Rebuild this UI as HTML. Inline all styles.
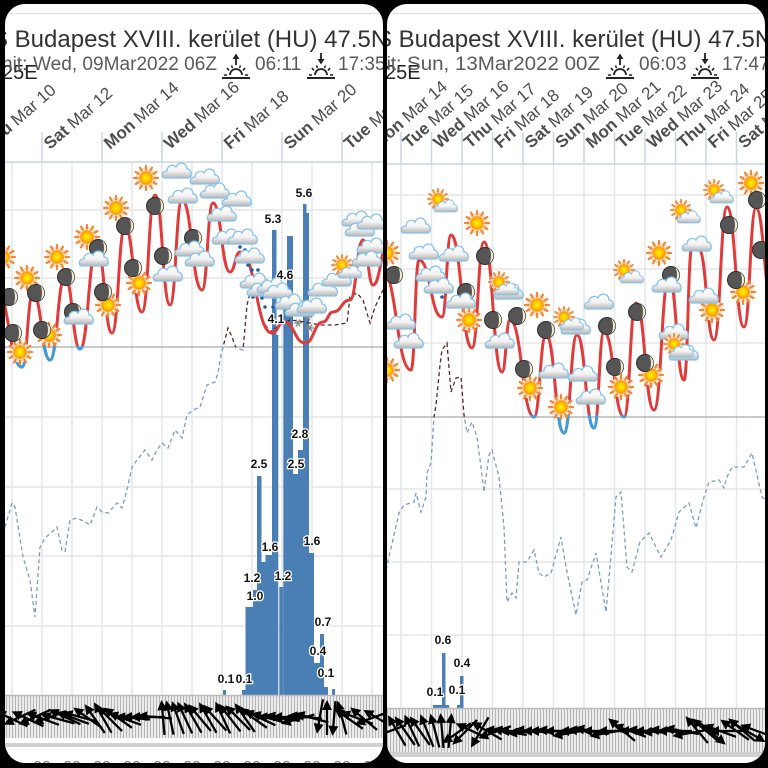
<!DOCTYPE html>
<html><head><meta charset="utf-8">
<style>
html,body{margin:0;padding:0;background:#000;width:768px;height:768px;overflow:hidden}
svg{display:block}
text{font-family:"Liberation Sans",Arial,sans-serif}
</style></head><body>
<svg width="768" height="768" viewBox="0 0 768 768" xmlns="http://www.w3.org/2000/svg" xmlns:xlink="http://www.w3.org/1999/xlink">
<defs>
 <clipPath id="cpL"><rect x="5" y="4" width="378" height="759" rx="20"/></clipPath>
 <clipPath id="cpR"><rect x="387" y="4" width="378" height="759" rx="20"/></clipPath>
 <clipPath id="cbL"><rect x="0" y="346" width="768" height="400"/></clipPath>
 <clipPath id="caL"><rect x="0" y="0" width="768" height="347"/></clipPath>
 <clipPath id="cbR"><rect x="0" y="415" width="768" height="400"/></clipPath>
 <clipPath id="caR"><rect x="0" y="0" width="768" height="417"/></clipPath>
 <radialGradient id="sg"><stop offset="0" stop-color="#fff200"/><stop offset="0.6" stop-color="#ffc400"/><stop offset="1" stop-color="#ff8c00"/></radialGradient>
 <linearGradient id="cg" x1="0" y1="0" x2="0" y2="1"><stop offset="0" stop-color="#ffffff"/><stop offset="0.55" stop-color="#f3f3f3"/><stop offset="1" stop-color="#b5b5b5"/></linearGradient>
 <pattern id="hatch" width="3" height="10" patternUnits="userSpaceOnUse"><rect width="3" height="10" fill="#ececec"/><rect x="0" width="1" height="10" fill="#b4b4b4"/></pattern>
 <g id="sun">
  <circle r="10.5" fill="#fde4c8"/>
  <path d="M8.5,0L12,0M7.36,4.25L10.39,6M4.25,7.36L6,10.39M0,8.5L0,12M-4.25,7.36L-6,10.39M-7.36,4.25L-10.39,6M-8.5,0L-12,0M-7.36,-4.25L-10.39,-6M-4.25,-7.36L-6,-10.39M0,-8.5L0,-12M4.25,-7.36L6,-10.39M7.36,-4.25L10.39,-6" stroke="#f0883a" stroke-width="2.2" stroke-linecap="round"/>
  <circle r="6.5" fill="url(#sg)" stroke="#f5a640" stroke-width="1"/>
 </g>
 <g id="moon">
  <circle r="8.5" fill="#555" stroke="#2e2e2e" stroke-width="1"/>
  <path d="M3,-7.9A8.5,8.5 0 0 1 3,7.9A3,7.9 0 0 0 3,-7.9Z" fill="#efe8c9"/>
 </g>
 <g id="cloud">
  <path d="M-12,6C-16,6 -16,-1 -10,-1C-10,-7 -3,-8 -1,-5C1,-11 10,-10 10,-3C15,-3 16,6 11,6Z" fill="url(#cg)" stroke="#86c3ea" stroke-width="1.3"/>
 </g>
 <g id="sc">
  <use xlink:href="#sun" href="#sun" transform="translate(-3,-3) scale(0.85)"/>
  <use xlink:href="#cloud" href="#cloud" transform="translate(5,5) scale(0.8)"/>
 </g>
 <g id="ar">
  <line x1="-17" y1="0" x2="10" y2="0" stroke="#000" stroke-width="2.3"/>
  <path d="M18,0L8,-5L8,5Z" fill="#000"/>
 </g>
 <g id="sn" stroke="#8a8a8a" stroke-width="1.3"><line x1="-4" y1="0" x2="4" y2="0"/><line x1="-2" y1="-3.5" x2="2" y2="3.5"/><line x1="2" y1="-3.5" x2="-2" y2="3.5"/></g>
 <g id="rise" stroke="#222" fill="none">
  <line x1="0" y1="65" x2="0" y2="58" stroke-width="1.8"/>
  <path d="M-3.5,59L0,53.5L3.5,59Z" fill="#222" stroke="none"/>
  <path d="M-6,75A6,6 0 0 1 6,75" stroke-width="1.8"/>
  <path d="M-12,75H-9M9,75H12M-9,68L-7,70.5M9,68L7,70.5M-4.5,65.5L-3.5,68M4.5,65.5L3.5,68" stroke-width="1.6"/>
  <line x1="-14" y1="78" x2="14" y2="78" stroke-width="2"/>
 </g>
 <g id="set" stroke="#222" fill="none">
  <line x1="0" y1="53" x2="0" y2="60" stroke-width="1.8"/>
  <path d="M-3.5,59L0,64.5L3.5,59Z" fill="#222" stroke="none"/>
  <path d="M-6,75A6,6 0 0 1 6,75" stroke-width="1.8"/>
  <path d="M-12,75H-9M9,75H12M-9,68L-7,70.5M9,68L7,70.5M-4.5,65.5L-3.5,68M4.5,65.5L3.5,68" stroke-width="1.6"/>
  <line x1="-14" y1="78" x2="14" y2="78" stroke-width="2"/>
 </g>
</defs>

<rect width="768" height="768" fill="#000"/>

<!-- ================= LEFT PANEL ================= -->
<g clip-path="url(#cpL)">
 <rect x="5" y="4" width="378" height="759" fill="#fff"/>
 <line x1="5" y1="13.5" x2="383" y2="13.5" stroke="#e2e2e2" stroke-width="1.2"/>
 <text x="-8" y="47" font-size="24" fill="#333">S Budapest XVIII. kerület (HU) 47.5N</text>
 <text x="2" y="79" font-size="20" fill="#222">25E</text>
 <text x="2" y="70" font-size="19" fill="#5a5a5a">nit:</text>
 <text x="33" y="70" font-size="19" fill="#5a5a5a" textLength="184" lengthAdjust="spacingAndGlyphs">Wed, 09Mar2022 06Z</text>
 <use xlink:href="#rise" href="#rise" transform="translate(236,0)"/>
 <text x="255" y="70" font-size="19" fill="#5a5a5a">06:11</text>
 <use xlink:href="#set" href="#set" transform="translate(321,0)"/>
 <text x="338" y="70" font-size="19" fill="#5a5a5a">17:35</text>

 <g stroke="#c9d4e3" stroke-width="1.5">
  <line x1="42" y1="132" x2="42" y2="162"/><line x1="102" y1="132" x2="102" y2="162"/><line x1="162" y1="132" x2="162" y2="162"/><line x1="222" y1="132" x2="222" y2="162"/><line x1="282" y1="132" x2="282" y2="162"/><line x1="342" y1="132" x2="342" y2="162"/>
 </g>
 <g font-size="17" fill="#4e4e4e">
  <text transform="translate(-10,150) rotate(-41)"><tspan font-weight="bold">Thu</tspan> Mar 10</text>
  <text transform="translate(50,150) rotate(-41)"><tspan font-weight="bold">Sat</tspan> Mar 12</text>
  <text transform="translate(110,150) rotate(-41)"><tspan font-weight="bold">Mon</tspan> Mar 14</text>
  <text transform="translate(170,150) rotate(-41)"><tspan font-weight="bold">Wed</tspan> Mar 16</text>
  <text transform="translate(230,150) rotate(-41)"><tspan font-weight="bold">Fri</tspan> Mar 18</text>
  <text transform="translate(290,150) rotate(-41)"><tspan font-weight="bold">Sun</tspan> Mar 20</text>
  <text transform="translate(350,150) rotate(-41)"><tspan font-weight="bold">Tue</tspan> Mar 22</text>
 </g>

 <g stroke="#e6e6e6" stroke-width="1.5">
  <line x1="5" y1="210" x2="383" y2="210"/><line x1="5" y1="278" x2="383" y2="278"/><line x1="5" y1="417" x2="383" y2="417"/><line x1="5" y1="487" x2="383" y2="487"/><line x1="5" y1="556" x2="383" y2="556"/><line x1="5" y1="626" x2="383" y2="626"/>
 </g>
 <g stroke="#e3e7eb" stroke-width="1.5">
  <line x1="12" y1="162" x2="12" y2="695"/><line x1="42" y1="162" x2="42" y2="695"/><line x1="72" y1="162" x2="72" y2="695"/><line x1="102" y1="162" x2="102" y2="695"/><line x1="132" y1="162" x2="132" y2="695"/><line x1="162" y1="162" x2="162" y2="695"/><line x1="192" y1="162" x2="192" y2="695"/><line x1="222" y1="162" x2="222" y2="695"/><line x1="252" y1="162" x2="252" y2="695"/><line x1="282" y1="162" x2="282" y2="695"/><line x1="312" y1="162" x2="312" y2="695"/><line x1="342" y1="162" x2="342" y2="695"/><line x1="372" y1="162" x2="372" y2="695"/>
 </g>
 <line x1="5" y1="347" x2="383" y2="347" stroke="#a9a9a9" stroke-width="1.3"/>
 <line x1="5" y1="162" x2="383" y2="162" stroke="#c9d4e3" stroke-width="1.5"/>

 <g fill="#4a7fb5">
  <rect x="223" y="690" width="3" height="5"/>
  <rect x="242" y="690" width="3.5" height="5"/>
  <rect x="245.5" y="607" width="4" height="88"/>
  <rect x="249.5" y="607" width="3.5" height="88"/>
  <rect x="253" y="590" width="4" height="105"/>
  <rect x="257" y="476" width="4.5" height="219"/>
  <rect x="261.5" y="562" width="4" height="133"/>
  <rect x="265.5" y="555" width="6.5" height="140"/>
  <rect x="272" y="230" width="4.5" height="465"/>
  <rect x="276.5" y="335" width="1.8" height="360"/>
  <rect x="279.3" y="587" width="4" height="108"/>
  <rect x="283.3" y="292" width="3.7" height="403"/>
  <rect x="287" y="236" width="6" height="459"/>
  <rect x="293" y="474" width="5" height="221"/>
  <rect x="298" y="450" width="5" height="245"/>
  <rect x="303" y="204" width="3.5" height="491"/>
  <rect x="306.5" y="213" width="2.5" height="482"/>
  <rect x="309" y="553" width="5" height="142"/>
  <rect x="314" y="663" width="6" height="32"/>
  <rect x="320" y="634" width="4" height="61"/>
  <rect x="324" y="687" width="4" height="8"/>
  <rect x="332" y="689" width="3" height="6"/>
 </g>

 <g fill="none" stroke-width="1.3" stroke-dasharray="4 3">
  <g clip-path="url(#cbL)"><polyline stroke="#7d9cc4" points="5,527 12,503 15,507 23,557 30,580 35,617 40,547 45,538 52,532 57,527 62,550 65,552 70,520 77,518 85,522 90,525 97,507 102,512 108,513 117,503 122,508 127,490 132,467 137,460 145,450 152,460 157,450 162,443 168,448 175,430 182,438 187,415 193,410 200,407 207,385 215,382 218,373 220,360 223,347 228,328 232,337 236,348 243,350 247,305 252,285 258,300 262,320 270,332 280,325 290,320 305,322 320,325 335,325 347,323 350,297 357,293 363,300 370,323 375,307 383,290"/></g>
  <g clip-path="url(#caL)"><polyline stroke="#5c2323" points="5,527 12,503 15,507 23,557 30,580 35,617 40,547 45,538 52,532 57,527 62,550 65,552 70,520 77,518 85,522 90,525 97,507 102,512 108,513 117,503 122,508 127,490 132,467 137,460 145,450 152,460 157,450 162,443 168,448 175,430 182,438 187,415 193,410 200,407 207,385 215,382 218,373 220,360 223,347 228,328 232,337 236,348 243,350 247,305 252,285 258,300 262,320 270,332 280,325 290,320 305,322 320,325 335,325 347,323 350,297 357,293 363,300 370,323 375,307 383,290"/></g>
 </g>

 <path fill="none" stroke="#e03b3b" stroke-width="3" d="M-5,285C8.5,285 8.5,367 22,367C27.5,367 27.5,293 33,293C41.5,293 41.5,360 50,360C57.5,360 57.5,277 65,277C72.5,277 72.5,349 80,349C88.5,349 88.5,247 97,247C104.5,247 104.5,333 112,333C118.5,333 118.5,227 125,227C133.5,227 133.5,312 142,312C148.5,312 148.5,195 155,195C162.5,195 162.5,305 170,305C176,305 176,200 182,200C192,200 192,290 202,290C207.5,290 207.5,203 213,203C221.5,203 221.5,272 230,272C235,272 235,252 240,252C256,252 256,333 272,333C278,333 278,322 284,322C294.5,322 294.5,343 305,343C314,343 314,322 323,322C328,322 328,312 333,312C341.5,312 341.5,300 350,300C356.5,300 356.5,240 363,240C368,240 368,285 373,285C380.5,285 380.5,245 388,245"/>
 <path fill="none" stroke="#3b9ddb" stroke-width="3" clip-path="url(#cbL)" d="M-5,285C8.5,285 8.5,367 22,367C27.5,367 27.5,293 33,293C41.5,293 41.5,360 50,360C57.5,360 57.5,277 65,277C72.5,277 72.5,349 80,349C88.5,349 88.5,247 97,247"/>

 <g fill="#1f5fa8">
  <circle cx="240" cy="247" r="1.8"/><circle cx="245" cy="250" r="1.8"/><circle cx="248" cy="265" r="1.8"/><circle cx="252" cy="270" r="1.8"/><circle cx="258" cy="270" r="1.8"/><circle cx="260" cy="278" r="1.8"/><circle cx="253" cy="297" r="1.8"/><circle cx="262" cy="298" r="1.8"/><circle cx="265" cy="307" r="1.8"/><circle cx="273" cy="307" r="1.8"/><circle cx="277" cy="293" r="1.8"/><circle cx="282" cy="305" r="1.8"/>
 </g>
 <use xlink:href="#sn" href="#sn" x="298" y="323"/><use xlink:href="#sn" href="#sn" x="308" y="317"/><use xlink:href="#sn" href="#sn" x="323" y="310"/><use xlink:href="#sn" href="#sn" x="310" y="328"/>

 <use href="#sun" xlink:href="#sun" x="3" y="257"/><use href="#sun" xlink:href="#sun" x="20" y="352"/><use href="#sun" xlink:href="#sun" x="27" y="278"/><use href="#sun" xlink:href="#sun" x="49" y="335"/><use href="#sun" xlink:href="#sun" x="57" y="257"/><use href="#sun" xlink:href="#sun" x="87" y="237"/><use href="#sun" xlink:href="#sun" x="108" y="305"/><use href="#sun" xlink:href="#sun" x="116" y="208"/><use href="#sun" xlink:href="#sun" x="139" y="283"/><use href="#sun" xlink:href="#sun" x="146" y="178"/>
 <use href="#moon" xlink:href="#moon" x="9" y="297"/><use href="#moon" xlink:href="#moon" x="13" y="333"/><use href="#moon" xlink:href="#moon" x="36" y="293"/><use href="#moon" xlink:href="#moon" x="42" y="330"/><use href="#moon" xlink:href="#moon" x="66" y="277"/><use href="#moon" xlink:href="#moon" x="73" y="312"/><use href="#moon" xlink:href="#moon" x="98" y="248"/><use href="#moon" xlink:href="#moon" x="103" y="292"/><use href="#moon" xlink:href="#moon" x="125" y="226"/><use href="#moon" xlink:href="#moon" x="133" y="268"/><use href="#moon" xlink:href="#moon" x="155" y="206"/><use href="#moon" xlink:href="#moon" x="163" y="256"/><use href="#moon" xlink:href="#moon" x="193" y="238"/>
 <use href="#cloud" xlink:href="#cloud" x="79" y="318"/><use href="#cloud" xlink:href="#cloud" x="94" y="260"/><use href="#cloud" xlink:href="#cloud" x="168" y="275"/><use href="#cloud" xlink:href="#cloud" x="177" y="172"/><use href="#cloud" xlink:href="#cloud" x="183" y="197"/><use href="#cloud" xlink:href="#cloud" x="190" y="250"/><use href="#cloud" xlink:href="#cloud" x="205" y="178"/><use href="#cloud" xlink:href="#cloud" x="215" y="192"/><use href="#cloud" xlink:href="#cloud" x="237" y="200"/><use href="#cloud" xlink:href="#cloud" x="222" y="215"/><use href="#cloud" xlink:href="#cloud" x="227" y="238"/><use href="#cloud" xlink:href="#cloud" x="243" y="238"/><use href="#cloud" xlink:href="#cloud" x="200" y="260"/><use href="#cloud" xlink:href="#cloud" x="250" y="257"/><use href="#cloud" xlink:href="#cloud" x="255" y="282"/><use href="#cloud" xlink:href="#cloud" x="262" y="290"/><use href="#cloud" xlink:href="#cloud" x="272" y="287"/><use href="#cloud" xlink:href="#cloud" x="278" y="292"/><use href="#cloud" xlink:href="#cloud" x="290" y="303"/><use href="#cloud" xlink:href="#cloud" x="300" y="310"/><use href="#cloud" xlink:href="#cloud" x="312" y="307"/><use href="#cloud" xlink:href="#cloud" x="323" y="290"/><use href="#cloud" xlink:href="#cloud" x="337" y="280"/><use href="#cloud" xlink:href="#cloud" x="357" y="220"/><use href="#cloud" xlink:href="#cloud" x="360" y="230"/><use href="#cloud" xlink:href="#cloud" x="372" y="223"/><use href="#cloud" xlink:href="#cloud" x="372" y="247"/><use href="#cloud" xlink:href="#cloud" x="367" y="260"/>
 <use href="#sc" xlink:href="#sc" x="345" y="268"/>

 <g font-size="12" font-weight="bold" fill="#111" stroke="#fff" stroke-width="2.5" paint-order="stroke" text-anchor="middle">
  <text x="226" y="683">0.1</text><text x="244" y="683">0.1</text>
  <text x="255" y="600">1.0</text><text x="252" y="582">1.2</text>
  <text x="259" y="468">2.5</text><text x="270" y="551">1.6</text>
  <text x="273" y="223">5.3</text><text x="276" y="323">4.1</text>
  <text x="283" y="580">1.2</text><text x="285" y="279">4.6</text>
  <text x="296" y="468">2.5</text><text x="300" y="438">2.8</text>
  <text x="304" y="197">5.6</text><text x="312" y="545">1.6</text>
  <text x="323" y="626">0.7</text><text x="318" y="655">0.4</text>
  <text x="326" y="677">0.1</text>
 </g>

 <rect x="5" y="695" width="378" height="43" fill="url(#hatch)"/>
 <line x1="5" y1="695.5" x2="383" y2="695.5" stroke="#bdbdbd" stroke-width="1.5"/>
 <g>
  <use href="#ar" xlink:href="#ar" transform="translate(12,719) rotate(205)"/>
  <use href="#ar" xlink:href="#ar" transform="translate(20,717) rotate(155)"/>
  <use href="#ar" xlink:href="#ar" transform="translate(28,719) rotate(205)"/>
  <use href="#ar" xlink:href="#ar" transform="translate(35,717) rotate(155)"/>
  <use href="#ar" xlink:href="#ar" transform="translate(43,719) rotate(200)"/>
  <use href="#ar" xlink:href="#ar" transform="translate(50,717) rotate(160)"/>
  <use href="#ar" xlink:href="#ar" transform="translate(58,719) rotate(195)"/>
  <use href="#ar" xlink:href="#ar" transform="translate(65,717) rotate(205)"/>
  <use href="#ar" xlink:href="#ar" transform="translate(73,718) rotate(200)"/>
  <use href="#ar" xlink:href="#ar" transform="translate(80,717) rotate(195)"/>
  <use href="#ar" xlink:href="#ar" transform="translate(88,718) rotate(215)"/>
  <use href="#ar" xlink:href="#ar" transform="translate(95,719) rotate(235)"/>
  <use href="#ar" xlink:href="#ar" transform="translate(103,718) rotate(240)"/>
  <use href="#ar" xlink:href="#ar" transform="translate(110,719) rotate(225)"/>
  <use href="#ar" xlink:href="#ar" transform="translate(118,718) rotate(215)"/>
  <use href="#ar" xlink:href="#ar" transform="translate(125,719) rotate(200)"/>
  <use href="#ar" xlink:href="#ar" transform="translate(133,718) rotate(185)"/>
  <use href="#ar" xlink:href="#ar" transform="translate(140,717) rotate(180)"/>
  <use href="#ar" xlink:href="#ar" transform="translate(148,717) rotate(180)"/>
  <use href="#ar" xlink:href="#ar" transform="translate(155,717) rotate(185)"/>
  <use href="#ar" xlink:href="#ar" transform="translate(163,718) rotate(265)"/>
  <use href="#ar" xlink:href="#ar" transform="translate(170,718) rotate(258)"/>
  <use href="#ar" xlink:href="#ar" transform="translate(178,718) rotate(250)"/>
  <use href="#ar" xlink:href="#ar" transform="translate(185,718) rotate(245)"/>
  <use href="#ar" xlink:href="#ar" transform="translate(193,718) rotate(240)"/>
  <use href="#ar" xlink:href="#ar" transform="translate(200,718) rotate(230)"/>
  <use href="#ar" xlink:href="#ar" transform="translate(208,718) rotate(240)"/>
  <use href="#ar" xlink:href="#ar" transform="translate(215,718) rotate(228)"/>
  <use href="#ar" xlink:href="#ar" transform="translate(223,718) rotate(245)"/>
  <use href="#ar" xlink:href="#ar" transform="translate(230,718) rotate(232)"/>
  <use href="#ar" xlink:href="#ar" transform="translate(238,718) rotate(225)"/>
  <use href="#ar" xlink:href="#ar" transform="translate(245,718) rotate(235)"/>
  <use href="#ar" xlink:href="#ar" transform="translate(253,718) rotate(215)"/>
  <use href="#ar" xlink:href="#ar" transform="translate(260,718) rotate(205)"/>
  <use href="#ar" xlink:href="#ar" transform="translate(268,718) rotate(195)"/>
  <use href="#ar" xlink:href="#ar" transform="translate(275,718) rotate(185)"/>
  <use href="#ar" xlink:href="#ar" transform="translate(283,718) rotate(190)"/>
  <use href="#ar" xlink:href="#ar" transform="translate(290,717) rotate(180)"/>
  <use href="#ar" xlink:href="#ar" transform="translate(298,719) rotate(165)"/>
  <use href="#ar" xlink:href="#ar" transform="translate(305,717) rotate(185)"/>
  <use href="#ar" xlink:href="#ar" transform="translate(312,718) rotate(195)"/>
  <use href="#ar" xlink:href="#ar" transform="translate(320,716) rotate(100)"/>
  <use href="#ar" xlink:href="#ar" transform="translate(327,718) rotate(270)"/>
  <use href="#ar" xlink:href="#ar" transform="translate(334,718) rotate(95)"/>
  <use href="#ar" xlink:href="#ar" transform="translate(342,718) rotate(255)"/>
  <use href="#ar" xlink:href="#ar" transform="translate(349,719) rotate(215)"/>
  <use href="#ar" xlink:href="#ar" transform="translate(357,718) rotate(200)"/>
  <use href="#ar" xlink:href="#ar" transform="translate(364,719) rotate(220)"/>
  <use href="#ar" xlink:href="#ar" transform="translate(372,718) rotate(160)"/>
  <use href="#ar" xlink:href="#ar" transform="translate(379,719) rotate(210)"/>
 </g>
 <rect x="5" y="743" width="378" height="4" fill="#d2d2d2"/>
 <g font-size="16" fill="#7a7a7a" text-anchor="middle">
  <text x="12" y="772">00</text><text x="42" y="772">00</text><text x="72" y="772">00</text><text x="102" y="772">00</text><text x="132" y="772">00</text><text x="162" y="772">00</text><text x="192" y="772">00</text><text x="222" y="772">00</text><text x="252" y="772">00</text><text x="282" y="772">00</text><text x="312" y="772">00</text><text x="342" y="772">00</text><text x="372" y="772">00</text>
 </g>
</g>

<!-- ================= RIGHT PANEL ================= -->
<g clip-path="url(#cpR)">
 <rect x="387" y="4" width="378" height="759" fill="#fff"/>
 <line x1="387" y1="13.5" x2="765" y2="13.5" stroke="#e2e2e2" stroke-width="1.2"/>
 <text x="376" y="47" font-size="24" fill="#333">S Budapest XVIII. kerület (HU) 47.5N</text>
 <text x="385" y="79" font-size="20" fill="#222">25E</text>
 <text x="376" y="70" font-size="19" fill="#5a5a5a">nit:</text>
 <text x="407" y="70" font-size="19" fill="#5a5a5a" textLength="193" lengthAdjust="spacingAndGlyphs">Sun, 13Mar2022 00Z</text>
 <use xlink:href="#rise" href="#rise" transform="translate(620,0)"/>
 <text x="639" y="70" font-size="19" fill="#5a5a5a">06:03</text>
 <use xlink:href="#set" href="#set" transform="translate(705,0)"/>
 <text x="722" y="70" font-size="19" fill="#5a5a5a">17:47</text>

 <g stroke="#c9d4e3" stroke-width="1.5">
  <line x1="401" y1="132" x2="401" y2="164"/><line x1="431.5" y1="132" x2="431.5" y2="164"/><line x1="462" y1="132" x2="462" y2="164"/><line x1="492.5" y1="132" x2="492.5" y2="164"/><line x1="523" y1="132" x2="523" y2="164"/><line x1="553.5" y1="132" x2="553.5" y2="164"/><line x1="584" y1="132" x2="584" y2="164"/><line x1="614.5" y1="132" x2="614.5" y2="164"/><line x1="645" y1="132" x2="645" y2="164"/><line x1="675.5" y1="132" x2="675.5" y2="164"/><line x1="706" y1="132" x2="706" y2="164"/><line x1="736.5" y1="132" x2="736.5" y2="164"/>
 </g>
 <g font-size="17" fill="#4e4e4e">
  <text transform="translate(378.5,149) rotate(-41)"><tspan font-weight="bold">Mon</tspan> Mar 14</text>
  <text transform="translate(409,149) rotate(-41)"><tspan font-weight="bold">Tue</tspan> Mar 15</text>
  <text transform="translate(439.5,149) rotate(-41)"><tspan font-weight="bold">Wed</tspan> Mar 16</text>
  <text transform="translate(470,149) rotate(-41)"><tspan font-weight="bold">Thu</tspan> Mar 17</text>
  <text transform="translate(500.5,149) rotate(-41)"><tspan font-weight="bold">Fri</tspan> Mar 18</text>
  <text transform="translate(531,149) rotate(-41)"><tspan font-weight="bold">Sat</tspan> Mar 19</text>
  <text transform="translate(561.5,149) rotate(-41)"><tspan font-weight="bold">Sun</tspan> Mar 20</text>
  <text transform="translate(592,149) rotate(-41)"><tspan font-weight="bold">Mon</tspan> Mar 21</text>
  <text transform="translate(622.5,149) rotate(-41)"><tspan font-weight="bold">Tue</tspan> Mar 22</text>
  <text transform="translate(653,149) rotate(-41)"><tspan font-weight="bold">Wed</tspan> Mar 23</text>
  <text transform="translate(683.5,149) rotate(-41)"><tspan font-weight="bold">Thu</tspan> Mar 24</text>
  <text transform="translate(714,149) rotate(-41)"><tspan font-weight="bold">Fri</tspan> Mar 25</text>
  <text transform="translate(744.5,149) rotate(-41)"><tspan font-weight="bold">Sat</tspan> Mar 26</text>
 </g>

 <g stroke="#e6e6e6" stroke-width="1.5">
  <line x1="387" y1="195" x2="765" y2="195"/><line x1="387" y1="269" x2="765" y2="269"/><line x1="387" y1="343" x2="765" y2="343"/><line x1="387" y1="489" x2="765" y2="489"/><line x1="387" y1="562" x2="765" y2="562"/><line x1="387" y1="635" x2="765" y2="635"/>
 </g>
 <g stroke="#e3e7eb" stroke-width="1.5">
  <line x1="401" y1="164" x2="401" y2="708"/><line x1="431.5" y1="164" x2="431.5" y2="708"/><line x1="462" y1="164" x2="462" y2="708"/><line x1="492.5" y1="164" x2="492.5" y2="708"/><line x1="523" y1="164" x2="523" y2="708"/><line x1="553.5" y1="164" x2="553.5" y2="708"/><line x1="584" y1="164" x2="584" y2="708"/><line x1="614.5" y1="164" x2="614.5" y2="708"/><line x1="645" y1="164" x2="645" y2="708"/><line x1="675.5" y1="164" x2="675.5" y2="708"/><line x1="706" y1="164" x2="706" y2="708"/><line x1="736.5" y1="164" x2="736.5" y2="708"/>
 </g>
 <line x1="387" y1="417" x2="765" y2="417" stroke="#a9a9a9" stroke-width="1.3"/>
 <line x1="387" y1="164" x2="765" y2="164" stroke="#c9d4e3" stroke-width="1.5"/>

 <g fill="#4a7fb5">
  <rect x="433" y="705" width="16" height="3"/>
  <rect x="442" y="653" width="3.5" height="55"/>
  <rect x="457" y="705" width="4" height="3"/>
  <rect x="460" y="676" width="3.5" height="32"/>
 </g>

 <g fill="none" stroke-width="1.3" stroke-dasharray="4 3">
  <g clip-path="url(#cbR)"><polyline stroke="#7d9cc4" points="386,570 399,513 404,505 414,502 416,493 421,512 426,497 427,473 431,463 434,417 436,405 440,365 442,350 447,343 451,392 456,378 461,377 464,415 467,433 472,422 477,437 481,467 484,492 489,455 492,450 499,477 504,527 507,602 512,593 516,598 519,562 527,562 534,550 539,573 544,577 551,573 561,537 566,567 576,615 582,582 587,580 596,553 606,612 616,497 621,492 627,567 632,572 640,542 649,533 661,557 671,540 679,512 689,503 696,528 704,497 709,482 719,480 724,488 727,477 732,467 744,467 752,453 762,497 766,500"/></g>
  <g clip-path="url(#caR)"><polyline stroke="#5c2323" points="386,570 399,513 404,505 414,502 416,493 421,512 426,497 427,473 431,463 434,417 436,405 440,365 442,350 447,343 451,392 456,378 461,377 464,415 467,433 472,422"/></g>
 </g>

 <path fill="none" stroke="#e03b3b" stroke-width="3" d="M382,270C396.5,270 396.5,370 411,370C415,370 415,260 419,260C430.5,260 430.5,317 442,317C446.5,317 446.5,235 451,235C461.5,235 461.5,348 472,348C478,348 478,242 484,242C493,242 493,372 502,372C506,372 506,320 510,320C522,320 522,417 534,417C540,417 540,335 546,335C555,335 555,433 564,433C570.5,433 570.5,335 577,335C585.5,335 585.5,428 594,428C599,428 599,332 604,332C614,332 614,417 624,417C630,417 630,303 636,303C645,303 645,410 654,410C661.5,410 661.5,277 669,277C676.5,277 676.5,380 684,380C688,380 688,247 692,247C695.5,247 695.5,250 699,250C706.5,250 706.5,340 714,340C720.5,340 720.5,207 727,207C735.5,207 735.5,327 744,327C750,327 750,208 756,208C764,208 764,300 772,300"/>
 <path fill="none" stroke="#3b9ddb" stroke-width="3" clip-path="url(#cbR)" d="M510,320C522,320 522,417 534,417C540,417 540,335 546,335C555,335 555,433 564,433C570.5,433 570.5,335 577,335C585.5,335 585.5,428 594,428C599,428 599,332 604,332C614,332 614,417 624,417C630,417 630,303 636,303"/>

 <use href="#sun" xlink:href="#sun" x="387" y="253"/><use href="#sun" xlink:href="#sun" x="477" y="223"/><use href="#sun" xlink:href="#sun" x="537" y="305"/><use href="#sun" xlink:href="#sun" x="659" y="253"/><use href="#sun" xlink:href="#sun" x="469" y="320"/><use href="#sun" xlink:href="#sun" x="530" y="388"/><use href="#sun" xlink:href="#sun" x="561" y="407"/><use href="#sun" xlink:href="#sun" x="621" y="387"/><use href="#sun" xlink:href="#sun" x="651" y="375"/><use href="#sun" xlink:href="#sun" x="712" y="310"/><use href="#sun" xlink:href="#sun" x="743" y="292"/><use href="#sun" xlink:href="#sun" x="751" y="183"/><use href="#sun" xlink:href="#sun" x="387" y="370"/>
 <use href="#moon" xlink:href="#moon" x="394" y="275"/><use href="#moon" xlink:href="#moon" x="485" y="256"/><use href="#moon" xlink:href="#moon" x="466" y="292"/><use href="#moon" xlink:href="#moon" x="493" y="320"/><use href="#moon" xlink:href="#moon" x="517" y="316"/><use href="#moon" xlink:href="#moon" x="546" y="330"/><use href="#moon" xlink:href="#moon" x="607" y="326"/><use href="#moon" xlink:href="#moon" x="637" y="312"/><use href="#moon" xlink:href="#moon" x="671" y="275"/><use href="#moon" xlink:href="#moon" x="729" y="225"/><use href="#moon" xlink:href="#moon" x="757" y="200"/><use href="#moon" xlink:href="#moon" x="736" y="280"/><use href="#moon" xlink:href="#moon" x="524" y="369"/><use href="#moon" xlink:href="#moon" x="615" y="367"/><use href="#moon" xlink:href="#moon" x="645" y="363"/><use href="#moon" xlink:href="#moon" x="761" y="250"/>
 <use href="#cloud" xlink:href="#cloud" x="416" y="227"/><use href="#cloud" xlink:href="#cloud" x="424" y="253"/><use href="#cloud" xlink:href="#cloud" x="454" y="255"/><use href="#cloud" xlink:href="#cloud" x="431" y="275"/><use href="#cloud" xlink:href="#cloud" x="439" y="287"/><use href="#cloud" xlink:href="#cloud" x="461" y="302"/><use href="#cloud" xlink:href="#cloud" x="401" y="323"/><use href="#cloud" xlink:href="#cloud" x="409" y="342"/><use href="#cloud" xlink:href="#cloud" x="509" y="293"/><use href="#cloud" xlink:href="#cloud" x="500" y="342"/><use href="#cloud" xlink:href="#cloud" x="599" y="303"/><use href="#cloud" xlink:href="#cloud" x="576" y="328"/><use href="#cloud" xlink:href="#cloud" x="554" y="372"/><use href="#cloud" xlink:href="#cloud" x="583" y="375"/><use href="#cloud" xlink:href="#cloud" x="591" y="398"/><use href="#cloud" xlink:href="#cloud" x="667" y="286"/><use href="#cloud" xlink:href="#cloud" x="697" y="245"/><use href="#cloud" xlink:href="#cloud" x="704" y="297"/><use href="#cloud" xlink:href="#cloud" x="674" y="333"/><use href="#cloud" xlink:href="#cloud" x="684" y="354"/>
 <use href="#sc" xlink:href="#sc" x="441" y="202"/><use href="#sc" xlink:href="#sc" x="502" y="285"/><use href="#sc" xlink:href="#sc" x="567" y="320"/><use href="#sc" xlink:href="#sc" x="627" y="273"/><use href="#sc" xlink:href="#sc" x="677" y="347"/><use href="#sc" xlink:href="#sc" x="684" y="213"/><use href="#sc" xlink:href="#sc" x="717" y="193"/>
 <circle cx="442" cy="297" r="1.8" fill="#1f5fa8"/>

 <g font-size="12" font-weight="bold" fill="#111" stroke="#fff" stroke-width="2.5" paint-order="stroke" text-anchor="middle">
  <text x="443" y="644">0.6</text><text x="462" y="667">0.4</text>
  <text x="435" y="696">0.1</text><text x="457" y="694">0.1</text>
 </g>

 <rect x="387" y="708" width="378" height="44" fill="url(#hatch)"/>
 <line x1="387" y1="708.5" x2="765" y2="708.5" stroke="#bdbdbd" stroke-width="1.5"/>
 <g>
  <use href="#ar" xlink:href="#ar" transform="translate(390,731) rotate(160)"/>
  <use href="#ar" xlink:href="#ar" transform="translate(397,731) rotate(240)"/>
  <use href="#ar" xlink:href="#ar" transform="translate(405,731) rotate(235)"/>
  <use href="#ar" xlink:href="#ar" transform="translate(412,731) rotate(245)"/>
  <use href="#ar" xlink:href="#ar" transform="translate(420,731) rotate(235)"/>
  <use href="#ar" xlink:href="#ar" transform="translate(427,731) rotate(248)"/>
  <use href="#ar" xlink:href="#ar" transform="translate(435,731) rotate(255)"/>
  <use href="#ar" xlink:href="#ar" transform="translate(442,731) rotate(265)"/>
  <use href="#ar" xlink:href="#ar" transform="translate(450,731) rotate(275)"/>
  <use href="#ar" xlink:href="#ar" transform="translate(457,733) rotate(145)"/>
  <use href="#ar" xlink:href="#ar" transform="translate(465,732) rotate(135)"/>
  <use href="#ar" xlink:href="#ar" transform="translate(472,731) rotate(205)"/>
  <use href="#ar" xlink:href="#ar" transform="translate(480,732) rotate(120)"/>
  <use href="#ar" xlink:href="#ar" transform="translate(487,731) rotate(210)"/>
  <use href="#ar" xlink:href="#ar" transform="translate(495,732) rotate(160)"/>
  <use href="#ar" xlink:href="#ar" transform="translate(502,731) rotate(185)"/>
  <use href="#ar" xlink:href="#ar" transform="translate(510,732) rotate(190)"/>
  <use href="#ar" xlink:href="#ar" transform="translate(517,731) rotate(180)"/>
  <use href="#ar" xlink:href="#ar" transform="translate(525,732) rotate(175)"/>
  <use href="#ar" xlink:href="#ar" transform="translate(532,731) rotate(185)"/>
  <use href="#ar" xlink:href="#ar" transform="translate(540,731) rotate(180)"/>
  <use href="#ar" xlink:href="#ar" transform="translate(547,731) rotate(180)"/>
  <use href="#ar" xlink:href="#ar" transform="translate(555,731) rotate(185)"/>
  <use href="#ar" xlink:href="#ar" transform="translate(562,731) rotate(180)"/>
  <use href="#ar" xlink:href="#ar" transform="translate(570,733) rotate(170)"/>
  <use href="#ar" xlink:href="#ar" transform="translate(577,731) rotate(180)"/>
  <use href="#ar" xlink:href="#ar" transform="translate(585,731) rotate(185)"/>
  <use href="#ar" xlink:href="#ar" transform="translate(592,731) rotate(190)"/>
  <use href="#ar" xlink:href="#ar" transform="translate(600,731) rotate(180)"/>
  <use href="#ar" xlink:href="#ar" transform="translate(607,733) rotate(170)"/>
  <use href="#ar" xlink:href="#ar" transform="translate(615,731) rotate(180)"/>
  <use href="#ar" xlink:href="#ar" transform="translate(622,730) rotate(220)"/>
  <use href="#ar" xlink:href="#ar" transform="translate(630,731) rotate(200)"/>
  <use href="#ar" xlink:href="#ar" transform="translate(637,731) rotate(180)"/>
  <use href="#ar" xlink:href="#ar" transform="translate(645,731) rotate(185)"/>
  <use href="#ar" xlink:href="#ar" transform="translate(652,731) rotate(180)"/>
  <use href="#ar" xlink:href="#ar" transform="translate(660,731) rotate(175)"/>
  <use href="#ar" xlink:href="#ar" transform="translate(667,731) rotate(185)"/>
  <use href="#ar" xlink:href="#ar" transform="translate(675,731) rotate(180)"/>
  <use href="#ar" xlink:href="#ar" transform="translate(682,731) rotate(190)"/>
  <use href="#ar" xlink:href="#ar" transform="translate(690,733) rotate(170)"/>
  <use href="#ar" xlink:href="#ar" transform="translate(697,730) rotate(230)"/>
  <use href="#ar" xlink:href="#ar" transform="translate(705,730) rotate(220)"/>
  <use href="#ar" xlink:href="#ar" transform="translate(712,733) rotate(40)"/>
  <use href="#ar" xlink:href="#ar" transform="translate(720,731) rotate(200)"/>
  <use href="#ar" xlink:href="#ar" transform="translate(727,731) rotate(180)"/>
  <use href="#ar" xlink:href="#ar" transform="translate(735,730) rotate(215)"/>
  <use href="#ar" xlink:href="#ar" transform="translate(742,730) rotate(220)"/>
  <use href="#ar" xlink:href="#ar" transform="translate(750,733) rotate(30)"/>
  <use href="#ar" xlink:href="#ar" transform="translate(757,731) rotate(200)"/>
 </g>
 <rect x="387" y="752" width="378" height="5" fill="#cfcfcf"/>
</g>
</svg>
</body></html>
